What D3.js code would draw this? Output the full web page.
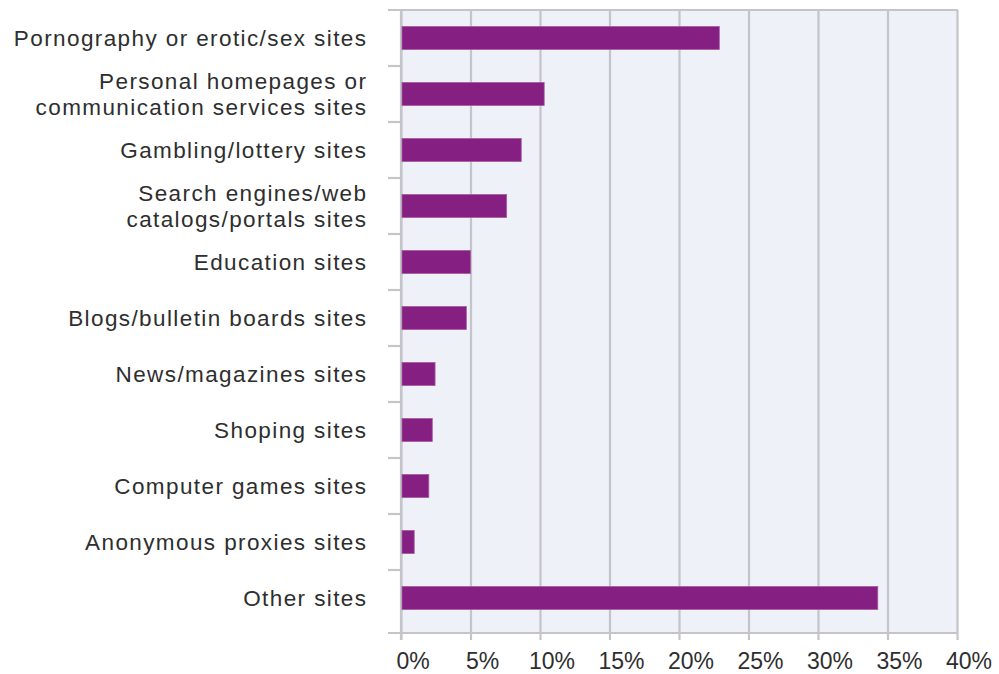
<!DOCTYPE html>
<html>
<head>
<meta charset="utf-8">
<script src="https://cdn.jsdelivr.net/npm/d3@7"></script>
<style>
  body { margin: 0; background: #ffffff; }
  svg text { font-family: "Liberation Sans", Arial, sans-serif; fill: #2e2e2e; }
</style>
</head>
<body>
<svg width="999" height="674"></svg>
<script>
// categories, top to bottom (two-line labels are split with |)
const categories = [
  'Pornography or erotic/sex sites',
  'Personal homepages or|communication services sites',
  'Gambling/lottery sites',
  'Search engines/web|catalogs/portals sites',
  'Education sites',
  'Blogs/bulletin boards sites',
  'News/magazines sites',
  'Shoping sites',
  'Computer games sites',
  'Anonymous proxies sites',
  'Other sites'
]
// share of sites, in percent
const shares = [22.9, 10.3, 8.65, 7.6, 5.0, 4.7, 2.45, 2.25, 2.0, 0.95, 34.3]
const xTicks = [0, 5, 10, 15, 20, 25, 30, 35, 40]

const data = categories.map((c, i) => ({ label: c, value: shares[i] }))

const plotLeft = 401, plotRight = 957, plotTop = 10, plotBottom = 633

const svg = d3.select('svg')

// x scale in percent
const x = d3.scaleLinear()
  .domain([0, 40])
  .range([plotLeft, plotRight])

// band scale for categories
const y = d3.scaleBand()
  .domain(categories)
  .range([plotTop, plotTop + 56 * categories.length])
  .paddingInner(0.59)
  .paddingOuter(0.295)

// plot background
svg.append('rect')
  .attr('x', plotLeft)
  .attr('y', plotTop)
  .attr('width', plotRight - plotLeft)
  .attr('height', plotBottom - plotTop)
  .style('fill', '#eef1f8')

// vertical gridlines + ticks below the axis
svg.append('g')
  .attr('transform', `translate(0, ${plotTop})`)
  .call(d3.axisBottom(x).tickValues(xTicks).tickSize(plotBottom - plotTop + 7).tickFormat(''))
  .call(g => g.select('.domain').remove())
  .call(g => g.selectAll('line').style('stroke', '#c4c5ca').style('stroke-width', 2.2))

// category separators; top and bottom ones run across as the frame
const sep = d3.range(0, categories.length + 1).map(i => i === categories.length ? plotBottom : plotTop + 56 * i)
svg.append('g')
  .selectAll('line')
  .data(sep)
  .enter()
  .append('line')
  .attr('x1', 388)
  .attr('x2', (d, i) => (i === 0 || i === sep.length - 1) ? plotRight + 1 : plotLeft)
  .attr('y1', d => d)
  .attr('y2', d => d)
  .style('stroke', '#c4c5ca')
  .style('stroke-width', 2.2)

// left axis line
svg.append('line')
  .attr('x1', plotLeft).attr('x2', plotLeft)
  .attr('y1', plotTop - 1).attr('y2', plotBottom + 7)
  .style('stroke', '#c4c5ca')
  .style('stroke-width', 2.2)

// bars
svg.append('g')
  .selectAll('rect')
  .data(data)
  .enter()
  .append('rect')
  .attr('x', x(0) + 1)
  .attr('y', d => y(d.label))
  .attr('width', d => x(d.value) - x(0) - 1)
  .attr('height', y.bandwidth())
  .style('fill', '#861f82')
  .style('stroke', '#a45aa2')
  .style('stroke-width', 0.8)

// category labels
const labels = svg.append('g')
  .selectAll('text')
  .data(data)
  .enter()
  .append('text')
  .attr('text-anchor', 'end')
  .style('font-size', '22.5px')
  .style('letter-spacing', '1.4px')

labels.each(function (d) {
  const lines = d.label.split('|')
  const cy = y(d.label) + y.bandwidth() / 2
  const t = d3.select(this)
  lines.forEach((ln, j) => {
    t.append('tspan')
      .attr('x', 367.4)
      .attr('y', cy + (j - (lines.length - 1) / 2) * 26)
      .attr('dy', '0.35em')
      .text(ln)
  })
})

// x tick labels (sit a little right of their ticks in the original)
svg.append('g')
  .selectAll('text')
  .data(xTicks)
  .enter()
  .append('text')
  .attr('x', d => x(d) + 12)
  .attr('y', 661)
  .attr('dy', '0.35em')
  .attr('text-anchor', 'middle')
  .style('font-size', '23px')
  .text(d => d + '%')
</script>
</body>
</html>
